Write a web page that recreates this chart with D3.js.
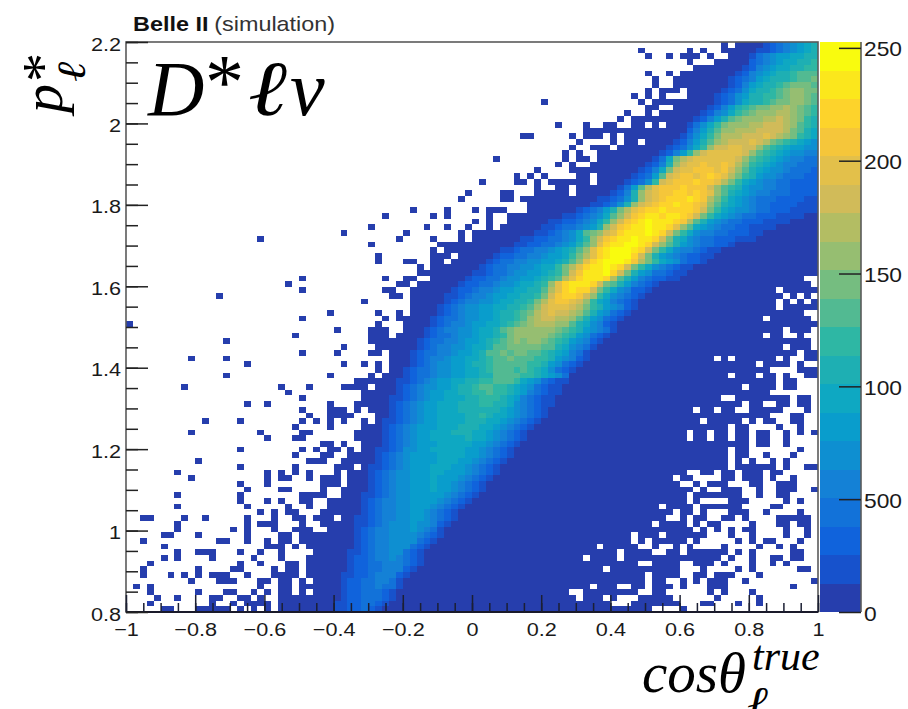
<!DOCTYPE html>
<html>
<head>
<meta charset="utf-8">
<script src="https://cdn.jsdelivr.net/npm/d3@7"></script>
<style>
  html, body { margin: 0; padding: 0; background: #fff; overflow: hidden; }
  svg { display: block; }
  .lab { font-family: "Liberation Sans", Arial, sans-serif; fill: #1a1a1a; }
  .big { font-family: "Liberation Serif", serif; font-style: italic; fill: #000; }
  .axis path { display: none; }
</style>
</head>
<body>
<div id="chart"></div>
<script>
// axis ranges and tick labels
let xDomain = [-1, 1]
let yDomain = [0.8, 2.2]
let zDomain = [0, 252.6]
let xTicks = [-1, -0.8, -0.6, -0.4, -0.2, 0, 0.2, 0.4, 0.6, 0.8, 1]
let yTicks = [0.8, 1, 1.2, 1.4, 1.6, 1.8, 2, 2.2]
let zTicks = [0, 50, 100, 150, 200, 250]
let zTickLabels = ["0", "500", "100", "150", "200", "250"]

// 20 colour contours of the z axis, bottom to top
let palette = ["#263ead", "#1752cc", "#1063dc", "#1272d9", "#1481d6", "#0e8fd1", "#099dcc", "#0ea8c2",
  "#1eafb3", "#2eb7a4", "#52ba92", "#75bd80", "#96be71", "#b3bd63", "#d1bb59", "#e3c04a",
  "#f5c63a", "#fdd32b", "#fbe71c", "#f9fb0e"]

// histogram, 100 x 100 bins, top row first
// "a" one cell in lowest contour, "a-b" run in lowest contour, "a:chars" contour per cell (base 36)
let rows = [
"86 88-91 92:12345678",
"74 81 83 86-90 91:112345678",
"75 78 80-82 84 87-89 90:1345667788",
"81 85-89 90:2345677889",
"82-88 89:12456778899",
"75 78 80-87 88:124567889aaa",
"76 79-86 87:1234678889aab",
"76 79-86 87:12467889abbba",
"75 77-79 81-85 86:12357889abccbb",
"73 75 77 81-84 85:123568899abccba",
"60 74 76 77-84 85:12357889abbccba",
"75 76 79-83 84:124689abbccdcba9",
"72 75 77-82 83:124579abcccddcba9",
"71 73-81 82:12468abcccddedcb98",
"62 66 69 70 73 74 76 78-80 81:13579bcccddeeedca98",
"66-80 81:2468accdddeeeedba87",
"57 58 64 66-68 70 72-79 80:13579bdddeeefedcb987",
"65 70 72 73 75-78 79:12468acdeeefedba98765",
"64 67-69 71-77 78:123579ceeffeeca9876655",
"63 65 68-76 77:12469cefffffeca98765544",
"53 63 65 66 68-75 76:137bdeffffffeca987654433",
"62 64 67-74 75:1248ceffgffgfdb9876544333",
"59 64-73 74:1247beffgggfgeca8765543332",
"56 58 60 65 66 68-72 73:1236aefggfghgfdb98655433322",
"51 56 57 59 61-66 68-71 72:12359efggghggfdb976544332222",
"59 62 63 65-70 71:136adfggghgggeca9865544332222",
"49 54 55 59-63 65-69 70:1248cefgghhghgfca8765443332222",
"48 54 55 57-67 68:112358cefghhhihgdb97654333222211",
"58-66 67:112358cefghhihhgfca87654332222111",
"41 46 50 52-54 58-64 65:123468bdfghhihhhhgeb976554332221111",
"37 44 46 52 55-62 63:1123457aceghiihiihgeb97654332221111 98-99",
"50 52 55-60 61:112234579ceghijiiihgda8654332221111 96-99",
"35 43 46 49 52 54-59 60:112334568ceghiijiihfca765433221111 94-99",
"31 40 48 50-58 59:1123457abcefhiiijiheb975443322211 92-99",
"19 39 44 48 50-56 57:1122334579ceghiijiiheb875433222111 91-99",
"35 45-55 56:1122334568acfhiijjiheca865433221 88-99",
"44 46-53 54:11233445678acfhijjjiheb975443211 86-99",
"36 44-46 48-52 53:122334456679bdfhijjjheb865432211 85-99",
"36 40 41 44 45 47-51 52:123344556678acfhijjjigdb97653221 84-99",
"42 44-50 51:123344556779bdfhiijiheb97543211 82-99",
"42-49 50:1123345566789begiiijheb86533211 81-99",
"25 37 40 41 44-48 49:1223345566789adfhiiihda86432211 80-97",
"23 39 40 42-47 48:1223345567789cfhiiiheba864321 77-98",
"25 37 38 41-46 47:1223445667788adfhihheb9754221 76-93 95-99",
"13 38 39 41-45 46:11234456677889beghhgec9754321 75-94 96 98",
"34 41-45 46:1234455677889bdfggfec9764321 74-93 95 97 99",
"41-44 45:1234556677889acefffedb9865421 74-93 95-99",
"29 36 39 41-44 45:123455667889abdefeedca865321 73-97",
"25 37 39-43 44:1233455667889acdeeddca865321 72-91 93-98",
"0 36 40-43 44:123445667789abcdddcca875421 71-99",
"30 35-37 40-42 43:12344556778abccccccba9865431 71-94 96-98",
"24 35-37 39-42 43:123345567789bcccccba9865321 70-91 93 94 97",
"14 35-41 42:123344566789abcbccba9865421 69-98",
"31 36-41 42:12344556778aabbbbbaa875431 68-94 96-98",
"25 30 35 36 38-40 41:12334456678aababbaa9876431 67-96 98 99",
"9 14 38-40 41:123445667789aabaaa99865421 67-84 86 88-93 95 98 99",
"17 31 34 36 38-40 41:123455667889aaaaa99865321 66-90 92-95 97",
"36 38 39 40:1233455667789aaa9a9875321 65-92 97-99",
"14 29 35 37-39 40:1233455667788aaaa9987653 64-86 88-90 92 93 95 98 99",
"33-38 39:11234566778899aaa97653211 64-93 95 96",
"8 22 26 31-34 36-38 39:123455667889aa9987653211 63-88 90-93 95 96",
"23 34-38 39:1234566778899a9987643211 63-92",
"25 34-37 38:112345667778899987643211 62-85 88-95 97 98",
"17 20 29 33-37 38:123456677788899887543211 62-88 90 91 94 95 97 98",
"25 29-31 33 35-37 38:12345667778888887654321 61-81 83 84 86 87 90-94 98",
"26 29-32 36 37 38:12345667777889877654321 61-92 96 97",
"11 16 25 27 29 31 34 36 37:11234566777788877654321 60-82 84-88 90 92 93 96 97",
"24 29 34-36 37:1234566677788877654321 59-86 88 89 94 97",
"9 19 25 26 33-36 37:123456677788877654321 58-80 82 83 85 86 88 89 91 92 95 97 99",
"20 24 25 33-36 37:123456677777877654321 58-80 82 83 85 86 88 89 91 92 95",
"28 29 31 34-36 37:12345666777776654321 57-89 91 92 95",
"16 25 27 29 30 32 34 35 36:11235566777776654321 56-86 88 89 97",
"24 28 29 32-35 36:12345666677776654321 56-86 88 89 92 96",
"10 26-28 31-35 36:1234566667776654321 55-86 88 90 93 95",
"16 24 30-32 34 35:1123456667776654321 54-86 88-93 95 98 99",
"7 20 22 24 26 30 32-34 35:1234556667766654321 54-80 83 84 86 87 89-91 93 94",
"9 20 22 23 26 28-30 32-34 35:123455666766654321 53-78 80 81 86 87 89-91 93 96",
"16 20 28-30 32-34 35:12345566676654321 52-79 82 84-86 90 91 94-96",
"17 22 23 28 31-34 35:12345566676654321 52-81 83 86-88 91 94-96 99",
"7 16 25-28 31-33 34:11234556666654321 51-80 82-88 91 94 95",
"16 20 22 25 26 29-33 34:1234455666654321 50-80 82 87-89 95 97",
"7 17 23 26 29-33 34:123445566654321 49-76 78-81 83-88 93 94",
"19 21 23 24 28-33 34:12344556654321 48-78 80 81 83 87-89 92 97",
"2 3 8 11 17 21 24 25 27-29 31 32 33:112344556654321 48-77 80 82 83 86 87 89 94-98",
"7 17 19-21 25 28-32 33:11234555655421 47-75 77-80 82 84 85 90 94 95 97 98",
"7 15 17 21 24-26 29-32 33:1234455565431 46-81 83 85 87 89 90 95 98",
"5 6 10 17 22 23 25-32 33:1234455554321 46-72 74-76 78-83 87 90 95 98",
"2 13 14 17 20 22 23 25-32 33:123445555321 45-72 74 76-80 82 88 90 92 93 97",
"5 20-22 24 26-32 33:12344555321 44-67 69-73 76 79 81 86 91 94 96",
"7 10-12 16 19 22 27-31 32:11234455321 43-70 72-75 78 79 81-86 88 90 96 97",
"5 7 12 18 22 26-31 32:12234454321 43-65 67-70 72-85 87 90 93 94 96 97",
"3 16 19 23 24 26-31 32:12233444321 43-73 76-79 82-84 86 90 93 95",
"2 10 15 16 21 23 24 26-31 32:1223344421 42-68 70-79 83 88 90 97 98",
"2 6 8 10 12-14 17 21-24 26-30 31:1122344421 41-74 76-79 82 83 85-87 91",
"9 13-15 19 20 22 23 25 27-30 31:122334431 40-74 76 77 80 82 84-86 89 99",
"1 3 19 22 23 25-30 31:122334331 40-66 68-70 73 74 76-78 80 84-86 96",
"3 10 14 15 18 20 22 23 25 27-30 31:12233321 39-63 66-73 76 77 84 86 90",
"4 7 12 13 16 17 19 22-30 31:12233321 39-64 66-68 70 74-78 85 91",
"3 12 15 17-20 22-29 30:11223321 38-69 73-79 83 84 88 91",
"5 6 10-14 16 18 20 22-29 30:1122321 37-75 80"
]

let width = 908, height = 709
let nBins = 100

let svg = d3.select("#chart").append("svg")
  .attr("width", width)
  .attr("height", height)

let x = d3.scaleLinear().domain(xDomain).range([126, 818])
let y = d3.scaleLinear().domain(yDomain).range([612, 42])
let z = d3.scaleLinear().domain(zDomain).range([612, 42])

let binX = (xDomain[1] - xDomain[0]) / nBins
let binY = (yDomain[1] - yDomain[0]) / nBins

// unpack the row strings into cells
let cells = []
rows.forEach(function(row, r){
  row.split(" ").forEach(function(tok){
    if (tok.indexOf(":") > -1){
      let start = +tok.split(":")[0]
      tok.split(":")[1].split("").forEach(function(c, i){
        cells.push({row: r, col: start + i, level: parseInt(c, 36)})
      })
    }
    else {
      let ends = tok.split("-")
      let last = ends.length > 1 ? +ends[1] : +ends[0]
      for (let c = +ends[0]; c <= last; c++){
        cells.push({row: r, col: c, level: 0})
      }
    }
  })
})

svg.append("g").attr("class", "cells")
  .selectAll("rect")
  .data(cells.filter(function(d){ return d.col < nBins }))
  .enter().append("rect")
    .attr("x", function(d){ return x(xDomain[0] + d.col * binX) })
    .attr("y", function(d){ return y(yDomain[1] - d.row * binY) })
    .attr("width", x(binX) - x(0))
    .attr("height", y(0) - y(binY))
    .attr("fill", function(d){ return palette[d.level] })
    .attr("shape-rendering", "crispEdges")

// colour bar
let zStep = (zDomain[1] - zDomain[0]) / palette.length
svg.append("g").attr("class", "bar")
  .selectAll("rect")
  .data(palette)
  .enter().append("rect")
    .attr("x", 820)
    .attr("width", 41)
    .attr("y", function(d, i){ return z((i + 1) * zStep) })
    .attr("height", z(0) - z(zStep))
    .attr("fill", function(d){ return d })
    .attr("shape-rendering", "crispEdges")

// frame
svg.append("rect")
  .attr("x", x.range()[0]).attr("y", y.range()[1])
  .attr("width", x.range()[1] - x.range()[0])
  .attr("height", y.range()[0] - y.range()[1])
  .attr("fill", "none")
  .attr("stroke", "#5a5a5a")
  .attr("stroke-width", 1.6)

svg.append("line")
  .attr("x1", 861).attr("x2", 861)
  .attr("y1", 42).attr("y2", 612)
  .attr("stroke", "#5a5a5a")
  .attr("stroke-width", 1.6)

svg.append("line")
  .attr("x1", 126).attr("x2", 818)
  .attr("y1", 612).attr("y2", 612)
  .attr("stroke", "#1a1a2a")
  .attr("stroke-width", 2)

// ticks, d3 axes turned so they point into the frame
let xMinor = d3.range(-1, 1.001, 0.05).map(function(v){ return +v.toFixed(2) })
let yMinor = d3.range(0.8, 2.201, 0.05).map(function(v){ return +v.toFixed(2) })

function styleTicks(g, colour){
  g.attr("class", "axis")
  g.selectAll("line").attr("stroke", colour).attr("stroke-width", 1.5)
  g.selectAll("text").remove()
}

svg.append("g").attr("transform", "translate(0,612)")
  .call(d3.axisTop(x).tickValues(xMinor).tickSize(9))
  .call(styleTicks, "#1b1f33")
svg.append("g").attr("transform", "translate(0,612)")
  .call(d3.axisTop(x).tickValues(xTicks).tickSize(17))
  .call(styleTicks, "#1b1f33")
svg.append("g").attr("transform", "translate(126,0)")
  .call(d3.axisRight(y).tickValues(yMinor).tickSize(12))
  .call(styleTicks, "#222")
svg.append("g").attr("transform", "translate(126,0)")
  .call(d3.axisRight(y).tickValues(yTicks).tickSize(22))
  .call(styleTicks, "#222")
svg.append("g").attr("transform", "translate(861,0)")
  .call(d3.axisLeft(z).tickValues(zTicks).tickSize(22))
  .call(styleTicks, "#222")

// tick labels
let stretch = 1.14
svg.append("g").attr("class", "axis")
  .attr("transform", "translate(0,612)")
  .call(d3.axisBottom(x).tickValues(xTicks).tickSize(0).tickFormat(d3.format("")))
  .selectAll("text")
    .attr("class", "lab")
    .attr("font-size", 19)
    .attr("y", 24)
    .attr("dy", 0)
    .attr("transform", "scale(" + stretch + ",1)")
    .attr("fill", "#1a1a1a")

svg.append("g").attr("class", "axis")
  .attr("transform", "translate(121,0)")
  .call(d3.axisLeft(y).tickValues(yTicks).tickSize(0).tickPadding(0).tickFormat(d3.format("")))
  .selectAll("text")
    .attr("class", "lab")
    .attr("font-size", 19)
    .attr("x", 0)
    .attr("dy", 8)
    .attr("transform", "scale(" + stretch + ",1)")
    .attr("fill", "#1a1a1a")

svg.append("g").attr("class", "axis")
  .attr("transform", "translate(864,0)")
  .call(d3.axisRight(z).tickValues(zTicks).tickSize(0).tickPadding(0)
    .tickFormat(function(d, i){ return zTickLabels[i] }))
  .selectAll("text")
    .attr("class", "lab")
    .attr("font-size", 20)
    .attr("x", 0)
    .attr("dy", 8)
    .attr("transform", "scale(" + stretch + ",1)")
    .attr("fill", "#1a1a1a")

// Belle II tag
let tag = svg.append("text").attr("class", "lab")
  .attr("transform", "translate(133,31) scale(1.17,1)")
  .attr("font-size", 20)
tag.append("tspan").attr("font-weight", "bold").attr("fill", "#111").text("Belle II")
tag.append("tspan").attr("dx", 5).attr("fill", "#333").text("(simulation)")

// big serif labels
function bigText(sel, px, py, size, str, upright, widen){
  return sel.append("text").attr("class", "big")
    .attr("transform", "translate(" + px + "," + py + ") scale(" + (widen || 1) + ",1)")
    .attr("font-size", size)
    .style("font-style", upright ? "normal" : "italic")
    .text(str)
}

bigText(svg, 148, 115, 78, "D")
bigText(svg, 205, 108, 78, "*", true)
bigText(svg, 248, 115, 78, "ℓ", false, 1.2)
bigText(svg, 290, 115, 78, "ν")

// y title
let yTitle = svg.append("g").attr("transform", "translate(62,113) rotate(-90)")
bigText(yTitle, 0, 0, 58, "p")
bigText(yTitle, 31, 0, 58, "*", true)
bigText(yTitle, 31, 23, 40, "ℓ", false, 1.2)

// x title
bigText(svg, 642, 692, 57, "cosθ")
bigText(svg, 752, 670, 42, "true")
bigText(svg, 747, 716, 42, "ℓ", false, 1.2)
</script>
</body>
</html>
